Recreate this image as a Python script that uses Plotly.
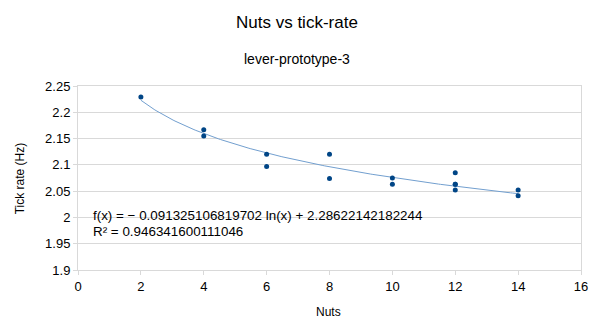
import numpy as np
import plotly.graph_objects as go

# Data
nuts = [2, 4, 4, 6, 6, 8, 8, 10, 10, 12, 12, 12, 12, 14, 14]
tick_rate = [2.229, 2.167, 2.155, 2.120, 2.097, 2.120, 2.074, 2.075, 2.063,
             2.085, 2.063, 2.052, 2.063, 2.052, 2.041]

# Logarithmic trend line coefficients (as shown in the chart)
trend_a = -0.091325106819702
trend_b = 2.28622142182244
trend_x = np.linspace(min(nuts), max(nuts), 200)
trend_y = trend_a * np.log(trend_x) + trend_b

x_ticks = [0, 2, 4, 6, 8, 10, 12, 14, 16]
y_ticks = [1.9, 1.95, 2.0, 2.05, 2.1, 2.15, 2.2, 2.25]
y_tick_text = ["1.9", "1.95", "2", "2.05", "2.1", "2.15", "2.2", "2.25"]

eq_line1 = "f(x) = − 0.091325106819702 ln(x) + 2.28622142182244"
eq_line2 = "R² = 0.946341600111046"

FONT = "Liberation Sans, Arial, sans-serif"
GRID = "#d9d9d9"

fig = go.Figure()
fig.add_trace(go.Scatter(x=trend_x, y=trend_y, mode="lines",
                         line=dict(color="#729fcf", width=1), hoverinfo="skip"))
fig.add_trace(go.Scatter(x=nuts, y=tick_rate, mode="markers",
                         marker=dict(color="#004586", size=5)))

fig.update_layout(
    width=600, height=324,
    margin=dict(l=78, r=16, t=86, b=54),
    paper_bgcolor="white", plot_bgcolor="white",
    showlegend=False,
    font=dict(family=FONT, color="#000000", size=13),
    xaxis=dict(range=[0, 16], tickvals=x_ticks, showgrid=False, zeroline=False,
               showline=True, linecolor=GRID, linewidth=1, mirror=True,
               ticks="outside", ticklen=4, tickcolor=GRID,
               tickfont=dict(size=13, family=FONT, color="#000")),
    yaxis=dict(range=[1.9, 2.25], tickvals=y_ticks, ticktext=y_tick_text,
               showgrid=True, gridcolor=GRID, gridwidth=1, zeroline=False,
               showline=True, linecolor=GRID, linewidth=1, mirror=True,
               ticks="outside", ticklen=4, tickcolor=GRID,
               tickfont=dict(size=13, family=FONT, color="#000")),
    annotations=[
        dict(text="Nuts vs tick-rate", xref="paper", yref="paper",
             x=(298 - 78) / 506, y=(270 - 23) / 184, showarrow=False,
             xanchor="center", yanchor="middle", font=dict(size=17, family=FONT)),
        dict(text="lever-prototype-3", xref="paper", yref="paper",
             x=(298 - 78) / 506, y=(270 - 59) / 184, showarrow=False,
             xanchor="center", yanchor="middle", font=dict(size=14, family=FONT)),
        dict(text="Nuts", xref="paper", yref="paper",
             x=(330 - 78) / 506, y=(270 - 312) / 184, showarrow=False,
             xanchor="center", yanchor="middle", font=dict(size=12, family=FONT)),
        dict(text="Tick rate (Hz)", xref="paper", yref="paper",
             x=(20 - 78) / 506, y=(270 - 178) / 184, showarrow=False, textangle=-90,
             xanchor="center", yanchor="middle", font=dict(size=12, family=FONT)),
        dict(text=eq_line1, xref="paper", yref="paper",
             x=(91 - 78) / 506, y=(270 - 215) / 184, showarrow=False,
             xanchor="left", yanchor="middle", font=dict(size=13.4, family=FONT)),
        dict(text=eq_line2, xref="paper", yref="paper",
             x=(91 - 78) / 506, y=(270 - 231) / 184, showarrow=False,
             xanchor="left", yanchor="middle", font=dict(size=13.4, family=FONT)),
    ],
)

fig.write_html("out.html")
